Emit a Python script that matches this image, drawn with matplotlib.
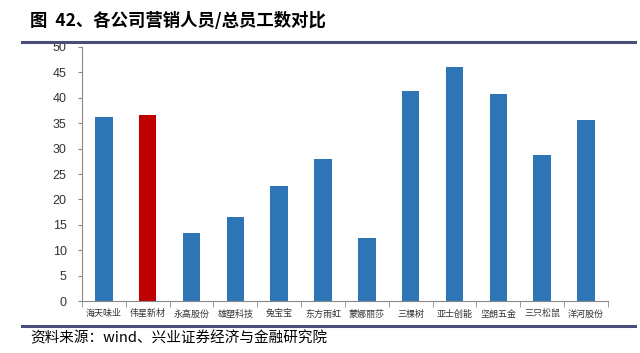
import matplotlib.pyplot as plt
import numpy as np

plt.rcParams['font.family'] = ['Noto Sans CJK SC', 'DejaVu Sans']

# 各公司营销人员/总员工数 (%)
companies = ['海天味业', '伟星新材', '永高股份', '雄塑科技', '兔宝宝', '东方雨虹', '蒙娜丽莎',
             '三棵树', '亚士创能', '坚朗五金', '三只松鼠', '洋河股份']
ratios = [36.2, 36.6, 13.4, 16.5, 22.6, 28.0, 12.4, 41.3, 46.1, 40.7, 28.8, 35.6]
highlight = '伟星新材'

fig = plt.figure(figsize=(6.4, 3.53), dpi=100)
ax = fig.add_axes([0.128, 0.147, 0.822, 0.72])

x = np.arange(len(companies))
colors = ['#C00000' if c == highlight else '#2E75B6' for c in companies]
ax.bar(x, ratios, 0.4, color=colors)

ax.set_xlim(-0.5, len(companies) - 0.5)
ax.set_ylim(0, 50)
ax.set_yticks(np.arange(0, 51, 5))
ax.tick_params(axis='y', labelsize=9, length=3, color='#888888', pad=8, labelcolor='#333333')
for lab in ax.get_yticklabels():
    lab.set_family(['Liberation Sans', 'DejaVu Sans'])
ax.set_xticks(x)
ax.set_xticklabels(companies, fontsize=6.5, color='#333333')
ax.set_xticks(np.arange(-0.5, len(companies)), minor=True)
ax.tick_params(axis='x', which='major', length=0, pad=6)
ax.tick_params(axis='x', which='minor', length=4, color='#888888')

for s in ['top', 'right']:
    ax.spines[s].set_visible(False)
for s in ['left', 'bottom']:
    ax.spines[s].set_color('#888888')
    ax.spines[s].set_linewidth(0.8)

fig.text(0.047, 0.94, '图  42、各公司营销人员/总员工数对比', fontsize=12.5, fontweight='bold',
         va='center', ha='left')
fig.add_artist(plt.Line2D([0.034, 0.992], [0.881, 0.881], color='#4B4E7A', lw=2.2))
fig.add_artist(plt.Line2D([0.034, 0.992], [0.077, 0.077], color='#4B4E7A', lw=2.2))
fig.text(0.047, 0.042, '资料来源：wind、兴业证券经济与金融研究院', fontsize=10.5,
         va='center', ha='left')

fig.savefig('out.png')
